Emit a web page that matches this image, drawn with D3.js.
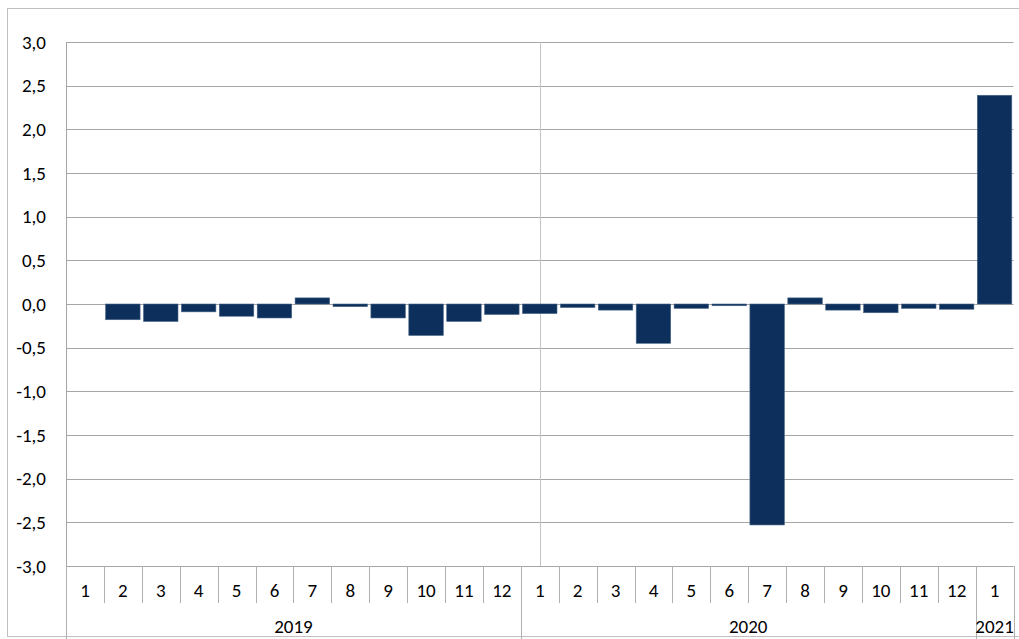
<!DOCTYPE html>
<html><head><meta charset="utf-8">
<script src="https://cdn.jsdelivr.net/npm/d3@7"></script>
<style>
html,body{margin:0;padding:0;background:#fff;}
svg text{font-family:Carlito, Lato, "Liberation Sans", sans-serif;fill:#000;}
</style></head>
<body>
<svg id="c" width="1019" height="639"></svg>
<script>
const years = ["2019","2020","2021"];
const months = [
  "1","2","3","4","5","6","7","8","9","10","11","12",
  "1","2","3","4","5","6","7","8","9","10","11","12",
  "1"];
const monthYear = [
  "2019","2019","2019","2019","2019","2019","2019","2019","2019","2019","2019","2019",
  "2020","2020","2020","2020","2020","2020","2020","2020","2020","2020","2020","2020",
  "2021"];
const values = [
  0.00,-0.18,-0.20,-0.09,-0.14,-0.16,0.07,-0.03,-0.16,-0.36,-0.20,-0.12,
  -0.11,-0.04,-0.07,-0.45,-0.05,-0.02,-2.53,0.07,-0.07,-0.10,-0.05,-0.06,
  2.39];
const yTicks = [-3,-2.5,-2,-1.5,-1,-0.5,0,0.5,1,1.5,2,2.5,3];
const markerIndex = 12; // vertical marker line at 2020-1

const svg = d3.select("#c");
const X0 = 66, X1 = 1013.5, YT = 42, YB = 566;
const FS = 19;
const keys = d3.range(values.length);
const x = d3.scaleBand().domain(keys).range([X0, X1]).paddingInner(0.09).paddingOuter(0.045);
const xb = d3.scaleLinear().domain([0, values.length]).range([X0, X1]);
const y = d3.scaleLinear().domain([-3, 3]).range([YB, YT]);
const fmt = v => d3.format(".1f")(v).replace(".", ",").replace("−", "-");
const r = v => Math.round(v) + 0.5;

// outer border
svg.append("rect").attr("x", 7.5).attr("y", 8.5).attr("width", 1030).attr("height", 628)
  .attr("fill", "none").attr("stroke", "#c0c0c0").attr("stroke-width", 1);

// gridlines
svg.append("g").selectAll("line").data(yTicks).join("line")
  .attr("x1", X0).attr("x2", X1)
  .attr("y1", d => r(y(d))).attr("y2", d => r(y(d)))
  .attr("stroke", "#a6a6a6").attr("stroke-width", 1);

// y-axis labels
const yAxis = d3.axisLeft(y).tickValues(yTicks).tickFormat(fmt).tickSize(0).tickPadding(0);
const ya = svg.append("g").attr("transform", `translate(46,0)`).call(yAxis);
ya.select(".domain").remove();
ya.selectAll("text").attr("font-size", FS).style("font-family", "Carlito, Lato, sans-serif").attr("fill", "#000");

// marker vertical line
svg.append("line")
  .attr("x1", r(x(markerIndex) + x.bandwidth() / 2)).attr("x2", r(x(markerIndex) + x.bandwidth() / 2))
  .attr("y1", YT).attr("y2", YB).attr("stroke", "#c4c4c4").attr("stroke-width", 1);

// plot left border
svg.append("line").attr("x1", r(X0)).attr("x2", r(X0)).attr("y1", YT).attr("y2", 639)
  .attr("stroke", "#a6a6a6");

// bars
svg.append("g").selectAll("rect").data(values).join("rect")
  .attr("x", (d, i) => x(i))
  .attr("width", x.bandwidth())
  .attr("y", d => y(Math.max(0, d)))
  .attr("height", d => Math.abs(y(d) - y(0)))
  .attr("fill", "#0c2f5c")
  .attr("stroke", "#4a6688").attr("stroke-width", 0.6);

// category tick lines
const bounds = d3.range(values.length + 1);
const yearBounds = [0];
for (let i = 1; i < monthYear.length; i++) if (monthYear[i] !== monthYear[i - 1]) yearBounds.push(i);
yearBounds.push(values.length);
svg.append("g").selectAll("line").data(bounds).join("line")
  .attr("x1", d => r(xb(d))).attr("x2", d => r(xb(d)))
  .attr("y1", YB).attr("y2", d => yearBounds.includes(d) ? 639 : 603)
  .attr("stroke", "#b0b0b0");

// month labels
svg.append("g").selectAll("text").data(months).join("text")
  .attr("x", (d, i) => xb(i + 0.5)).attr("y", 597)
  .attr("text-anchor", "middle").attr("font-size", FS).text(d => d);

// year labels
const yearPos = years.map(yy => {
  const idx = monthYear.map((m, i) => m === yy ? i : -1).filter(i => i >= 0);
  return {label: yy, c: (xb(idx[0]) + xb(idx[idx.length - 1] + 1)) / 2};
});
svg.append("g").selectAll("text").data(yearPos).join("text")
  .attr("x", d => d.c).attr("y", 633)
  .attr("text-anchor", "middle").attr("font-size", FS).text(d => d.label);
</script>
</body></html>
